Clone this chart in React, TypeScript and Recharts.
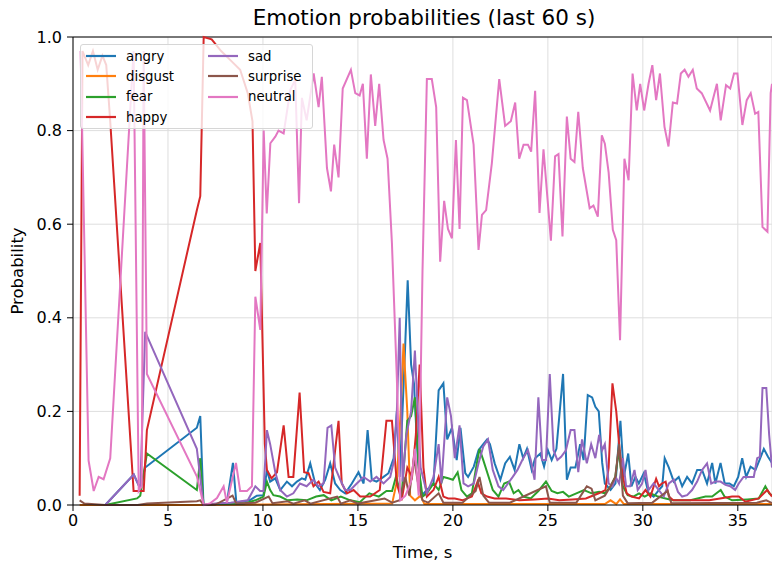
import React from "react";
import { LineChart, Line, XAxis, YAxis, CartesianGrid, Legend, ReferenceLine } from "recharts";

const FONT = "DejaVu Sans";

const emotions = ["angry", "disgust", "fear", "happy", "sad", "surprise", "neutral"];
const colors: Record<string, string> = {
    angry: "#1f77b4",
    disgust: "#ff7f0e",
    fear: "#2ca02c",
    happy: "#d62728",
    sad: "#9467bd",
    surprise: "#8c564b",
    neutral: "#e377c2",
};

const xTicks = [0, 5, 10, 15, 20, 25, 30, 35];
const yTicks = [0, 0.2, 0.4, 0.6, 0.8, 1.0];

// [time s, probability]
const angry: [number, number][] = [
    [1.7, 0], [3.2, 0.065], [3.37, 0.05], [3.54, 0.035], [3.8, 0.08], [6.52, 0.165], [6.7, 0.19], [6.87, 0],
    [7.5, 0.002], [8.1, 0.005], [8.42, 0.09], [8.6, 0.005], [9.3, 0.01], [9.68, 0.02], [10.03, 0.021],
    [10.21, 0.075], [10.38, 0.05], [10.65, 0.057], [10.91, 0.032], [11.26, 0.05], [11.53, 0.04], [11.79, 0.05],
    [12.05, 0.057], [12.23, 0.054], [12.49, 0.089], [12.75, 0.046], [13.0, 0.032], [13.28, 0.054], [13.54, 0.089],
    [13.8, 0.046], [14.07, 0.032], [14.33, 0.025], [14.68, 0.046], [15.03, 0.07], [15.3, 0.046], [15.51, 0.16],
    [15.73, 0.054], [15.98, 0.05], [16.35, 0.06], [16.61, 0.068], [16.88, 0.1], [17.05, 0.2], [17.2, 0.06],
    [17.45, 0.3], [17.62, 0.48], [17.8, 0.3], [17.95, 0.26], [18.15, 0.1], [18.35, 0.02], [18.63, 0.032],
    [18.98, 0.046], [19.25, 0.245], [19.5, 0.26], [19.7, 0.14], [19.95, 0.165], [20.2, 0.096], [20.4, 0.165],
    [20.65, 0.068], [20.8, 0.06], [21.1, 0.082], [21.35, 0.117], [21.6, 0.13], [21.8, 0.14], [21.95, 0.13],
    [22.2, 0.089], [22.5, 0.054], [22.75, 0.089], [23.0, 0.103], [23.25, 0.075], [23.5, 0.13], [23.7, 0.1],
    [23.9, 0.12], [24.15, 0.075], [24.33, 0.1], [24.6, 0.11], [24.8, 0.082], [25.0, 0.117], [25.2, 0.096],
    [25.45, 0.12], [25.8, 0.28], [26.0, 0.054], [26.2, 0.08], [26.45, 0.08], [26.7, 0.13], [26.88, 0.096],
    [27.1, 0.235], [27.33, 0.23], [27.5, 0.21], [27.68, 0.2], [27.86, 0.09], [28.0, 0.046], [28.3, 0.032],
    [28.56, 0.046], [28.82, 0.18], [29.0, 0.06], [29.23, 0.11], [29.4, 0.04], [29.61, 0.06], [29.79, 0.046],
    [30.05, 0.068], [30.3, 0.025], [30.57, 0.018], [30.84, 0.032], [31.02, 0.04], [31.15, 0.1], [31.37, 0.08],
    [31.63, 0.05], [31.89, 0.06], [32.07, 0.04], [32.33, 0.06], [32.59, 0.046], [32.86, 0.075], [33.12, 0.075],
    [33.38, 0.046], [33.65, 0.09], [33.82, 0.046], [34.09, 0.09], [34.31, 0.046], [34.56, 0.046], [34.79, 0.04],
    [35.02, 0.06], [35.23, 0.1], [35.44, 0.06], [35.67, 0.082], [35.93, 0.075], [36.14, 0.096], [36.37, 0.12],
    [36.59, 0.103], [36.8, 0.09],
];

const disgust: [number, number][] = [
    [0.35, 0], [6.88, 0], [10, 0.001], [16.8, 0.003], [17.05, 0.05], [17.25, 0.2], [17.4, 0.345], [17.6, 0.2],
    [17.75, 0.02], [18.0, 0.01], [18.3, 0.02], [18.5, 0.002], [20, 0.002], [28.0, 0.002], [28.3, 0.01],
    [28.6, 0.002], [28.8, 0.012], [29.0, 0.002], [36.8, 0.002],
];

const fear: [number, number][] = [
    [1.7, 0], [3.37, 0.014], [3.54, 0.02], [3.89, 0.11], [6.52, 0.032], [6.7, 0.1], [6.87, 0],
    [7.5, 0.002], [9.0, 0.003], [9.6, 0.01], [10.03, 0.018], [10.21, 0.05], [10.38, 0.032], [10.55, 0.021],
    [10.9, 0.018], [11.3, 0.01], [11.8, 0.012], [12.3, 0.01], [12.8, 0.018], [13.2, 0.021], [13.6, 0.01],
    [14.1, 0.018], [14.6, 0.01], [15.1, 0.006], [15.6, 0.025], [16.1, 0.018], [16.5, 0.03], [16.8, 0.03],
    [17.0, 0.06], [17.3, 0.02], [17.6, 0.18], [17.8, 0.19], [18.0, 0.23], [18.2, 0.08], [18.4, 0.018],
    [18.63, 0.025], [18.98, 0.046], [19.25, 0.032], [19.5, 0.06], [19.75, 0.057], [20.0, 0.054], [20.25, 0.07],
    [20.45, 0.032], [20.74, 0.018], [21.0, 0.025], [21.2, 0.075], [21.4, 0.12], [21.6, 0.096], [21.85, 0.064],
    [22.1, 0.032], [22.4, 0.018], [22.7, 0.046], [22.95, 0.05], [23.2, 0.025], [23.45, 0.032], [23.7, 0.018],
    [24.1, 0.014], [24.5, 0.03], [24.9, 0.05], [25.2, 0.03], [25.5, 0.025], [25.8, 0.028], [26.1, 0.018],
    [26.5, 0.025], [26.9, 0.032], [27.3, 0.025], [27.7, 0.028], [28.0, 0.025], [28.3, 0.04], [28.55, 0.06],
    [28.73, 0.117], [28.95, 0.04], [29.2, 0.021], [29.5, 0.018], [29.8, 0.025], [30.1, 0.018], [30.4, 0.025],
    [30.8, 0.018], [31.2, 0.014], [31.6, 0.01], [32.5, 0.01], [33.3, 0.018], [33.65, 0.018], [34.1, 0.032],
    [34.3, 0.018], [34.7, 0.01], [35.5, 0.012], [36.1, 0.014], [36.45, 0.04], [36.65, 0.025], [36.8, 0.02],
];

const happy: [number, number][] = [
    [0.35, 0.02], [0.5, 0.97], [0.8, 0.94], [1.05, 0.97], [1.3, 0.93], [1.55, 0.96], [1.75, 0.94], [1.96, 0.82],
    [3.19, 0.03], [3.46, 0.03], [3.72, 0.03], [3.89, 0.16], [6.52, 0.63], [6.7, 0.66], [6.88, 1.0], [7.3, 0.995],
    [7.8, 0.97], [8.3, 0.95], [8.8, 0.93], [9.2, 0.88], [9.45, 0.82], [9.6, 0.5], [9.86, 0.56], [10.1, 0.13],
    [10.21, 0.075], [10.45, 0.057], [10.74, 0.07], [11.09, 0.17], [11.35, 0.06], [11.6, 0.06], [11.93, 0.24],
    [12.17, 0.07], [12.4, 0.068], [12.66, 0.04], [12.93, 0.05], [13.19, 0.028], [13.54, 0.025], [13.98, 0.18],
    [14.15, 0.046], [14.42, 0.025], [14.77, 0.032], [15.12, 0.018], [15.65, 0.018], [16.15, 0.032], [16.5, 0.18],
    [16.79, 0.18], [17.05, 0.046], [17.3, 0.01], [17.6, 0.08], [17.85, 0.06], [18.05, 0.15], [18.25, 0.3],
    [18.45, 0.08], [18.63, 0.018], [18.98, 0.032], [19.25, 0.06], [19.5, 0.018], [19.75, 0.014], [20.1, 0.014],
    [20.5, 0.01], [21.0, 0.018], [21.3, 0.05], [21.5, 0.025], [21.8, 0.018], [22.2, 0.014], [22.8, 0.014],
    [23.5, 0.01], [24.3, 0.012], [25.0, 0.014], [25.6, 0.01], [26.3, 0.012], [27.0, 0.014], [27.68, 0.025],
    [28.03, 0.032], [28.2, 0.08], [28.4, 0.26], [28.6, 0.2], [28.78, 0.117], [28.95, 0.06], [29.15, 0.025],
    [29.4, 0.018], [29.8, 0.014], [30.14, 0.032], [30.4, 0.018], [30.7, 0.056], [30.85, 0.04], [31.0, 0.046],
    [31.2, 0.05], [31.37, 0.018], [31.6, 0.01], [32.5, 0.01], [33.5, 0.01], [34.7, 0.018], [35.05, 0.018],
    [35.4, 0.007], [36.1, 0.014], [36.37, 0.025], [36.55, 0.032], [36.8, 0.018],
];

const sad: [number, number][] = [
    [1.7, 0], [3.2, 0.065], [3.37, 0.05], [3.54, 0.035], [3.8, 0.37], [6.52, 0.12], [6.87, 0],
    [7.5, 0.003], [8.3, 0.005], [9.2, 0.01], [9.6, 0.04], [9.85, 0.03], [10.03, 0.03], [10.21, 0.16],
    [10.38, 0.13], [10.65, 0.07], [10.91, 0.032], [11.26, 0.018], [11.6, 0.025], [11.95, 0.046], [12.3, 0.04],
    [12.65, 0.054], [12.92, 0.04], [13.19, 0.046], [13.4, 0.165], [13.6, 0.17], [13.8, 0.08], [14.07, 0.054],
    [14.33, 0.032], [14.6, 0.032], [14.94, 0.046], [15.3, 0.06], [15.65, 0.05], [15.98, 0.06], [16.35, 0.046],
    [16.7, 0.06], [16.9, 0.095], [17.05, 0.2], [17.2, 0.4], [17.35, 0.05], [17.55, 0.15], [17.8, 0.2],
    [18.0, 0.33], [18.15, 0.2], [18.3, 0.08], [18.63, 0.025], [18.98, 0.06], [19.25, 0.13], [19.4, 0.046],
    [19.7, 0.23], [19.9, 0.19], [20.1, 0.1], [20.35, 0.17], [20.56, 0.046], [20.8, 0.04], [21.1, 0.046],
    [21.35, 0.089], [21.6, 0.125], [21.85, 0.14], [22.1, 0.075], [22.4, 0.04], [22.65, 0.032], [22.9, 0.046],
    [23.15, 0.06], [23.4, 0.075], [23.7, 0.1], [23.95, 0.117], [24.1, 0.096], [24.3, 0.054], [24.5, 0.23],
    [24.7, 0.096], [24.9, 0.096], [25.1, 0.28], [25.3, 0.117], [25.5, 0.096], [25.7, 0.103], [25.95, 0.117],
    [26.2, 0.16], [26.4, 0.16], [26.6, 0.07], [26.8, 0.14], [27.05, 0.089], [27.28, 0.13], [27.5, 0.1],
    [27.7, 0.15], [27.86, 0.117], [28.0, 0.13], [28.2, 0.046], [28.4, 0.04], [28.57, 0.06], [28.75, 0.046],
    [28.95, 0.1], [29.12, 0.04], [29.33, 0.04], [29.56, 0.075], [29.73, 0.032], [29.96, 0.046], [30.14, 0.075],
    [30.3, 0.032], [30.57, 0.046], [30.84, 0.032], [31.1, 0.018], [31.37, 0.046], [31.63, 0.054], [31.85, 0.028],
    [32.07, 0.018], [32.33, 0.021], [32.59, 0.032], [32.86, 0.05], [33.12, 0.075], [33.38, 0.089], [33.6, 0.046],
    [33.82, 0.05], [34.09, 0.05], [34.35, 0.043], [34.6, 0.04], [34.86, 0.032], [35.05, 0.046], [35.3, 0.06],
    [35.58, 0.06], [35.84, 0.06], [36.02, 0.1], [36.16, 0.103], [36.3, 0.25], [36.5, 0.25], [36.65, 0.15],
    [36.8, 0.08],
];

const surprise: [number, number][] = [
    [0.35, 0.01], [0.6, 0.003], [1.7, 0], [3.4, 0], [3.9, 0.003], [6.52, 0.008], [6.7, 0.01], [6.88, 0],
    [7.5, 0.001], [8.4, 0.02], [8.6, 0.003], [9.6, 0.005], [10.3, 0.018], [10.5, 0.004], [11.3, 0.008],
    [11.6, 0.003], [12.2, 0.01], [12.5, 0.003], [13.9, 0.018], [14.1, 0.003], [14.6, 0.01], [15.0, 0.003],
    [16.4, 0.014], [16.8, 0.005], [17.2, 0.01], [17.5, 0.06], [17.7, 0.02], [17.95, 0.1], [18.15, 0.05],
    [18.4, 0.01], [18.7, 0.005], [19.25, 0.025], [19.5, 0.005], [20.5, 0.005], [21.2, 0.03], [21.4, 0.06],
    [21.6, 0.02], [21.9, 0.005], [23.0, 0.005], [24.9, 0.04], [25.1, 0.005], [26.5, 0.005], [27.05, 0.04],
    [27.3, 0.035], [27.5, 0.01], [28.0, 0.02], [28.3, 0.04], [28.55, 0.06], [28.75, 0.13], [28.95, 0.02],
    [29.2, 0.004], [30.5, 0.005], [31.3, 0.03], [31.5, 0.004], [36.0, 0.005], [36.5, 0.01], [36.8, 0.004],
];

const neutral: [number, number][] = [
    [0.4, 0.97], [0.82, 0.095], [1.09, 0.03], [1.35, 0.06], [1.61, 0.055], [1.96, 0.1], [3.19, 0.97],
    [3.46, 0.03], [3.62, 0.04], [3.72, 0.97], [3.89, 0.28], [6.53, 0.06], [6.88, 0], [7.2, 0.003],
    [7.58, 0.015], [7.93, 0.04], [8.1, 0.005], [8.58, 0.09], [8.8, 0.03], [9.16, 0.03], [9.42, 0.04],
    [9.6, 0.445], [9.86, 0.374], [10.04, 0.8], [10.2, 0.623], [10.39, 0.773], [10.65, 0.787], [10.82, 0.8],
    [11.09, 0.794], [11.44, 0.887], [11.7, 0.908], [11.9, 0.645], [12.05, 0.87], [12.3, 0.822], [12.67, 0.922],
    [12.93, 0.85], [13.1, 0.915], [13.37, 0.72], [13.58, 0.67], [13.75, 0.77], [13.98, 0.7], [14.2, 0.89],
    [14.63, 0.93], [14.86, 0.88], [15.09, 0.875], [15.26, 0.9], [15.47, 0.74], [15.68, 0.92], [15.91, 0.81],
    [16.12, 0.9], [16.35, 0.78], [16.56, 0.74], [16.79, 0.56], [17.05, 0.27], [17.23, 0.01], [17.5, 0.02],
    [17.8, 0.05], [18.0, 0.12], [18.2, 0.02], [18.4, 0.5], [18.63, 0.91], [18.89, 0.91], [19.12, 0.85],
    [19.33, 0.52], [19.54, 0.65], [19.74, 0.59], [19.95, 0.57], [20.16, 0.78], [20.35, 0.59], [20.53, 0.87],
    [20.74, 0.865], [21.09, 0.77], [21.35, 0.545], [21.53, 0.62], [21.75, 0.63], [22.05, 0.73], [22.44, 0.91],
    [22.75, 0.81], [23.05, 0.82], [23.28, 0.86], [23.49, 0.74], [23.72, 0.77], [23.95, 0.77], [24.12, 0.755],
    [24.33, 0.885], [24.56, 0.624], [24.77, 0.76], [25.16, 0.565], [25.38, 0.745], [25.56, 0.75], [25.77, 0.574],
    [26.0, 0.83], [26.2, 0.74], [26.4, 0.733], [26.6, 0.84], [26.84, 0.72], [27.2, 0.634], [27.4, 0.64],
    [27.63, 0.616], [27.84, 0.79], [28.0, 0.772], [28.2, 0.71], [28.42, 0.588], [28.6, 0.566], [28.8, 0.352],
    [29.03, 0.74], [29.25, 0.694], [29.46, 0.922], [29.68, 0.843], [29.86, 0.9], [30.07, 0.843], [30.3, 0.9],
    [30.5, 0.94], [30.7, 0.865], [30.9, 0.922], [31.14, 0.808], [31.35, 0.766], [31.58, 0.86], [31.8, 0.858],
    [32.0, 0.922], [32.2, 0.93], [32.4, 0.915], [32.63, 0.93], [32.84, 0.89], [33.1, 0.88], [33.54, 0.843],
    [33.9, 0.9], [34.1, 0.822], [34.38, 0.897], [34.6, 0.89], [34.8, 0.922], [34.98, 0.922], [35.24, 0.812],
    [35.47, 0.865], [35.68, 0.88], [35.91, 0.836], [36.08, 0.84], [36.3, 0.594], [36.56, 0.584], [36.73, 0.88],
    [36.8, 0.9],
];

const series: Record<string, [number, number][]> = { angry, disgust, fear, happy, sad, surprise, neutral };

const toPoints = (pts: [number, number][]) => pts.map(([t, v]) => ({ t, v }));

const legendCols = [["angry", "disgust", "fear", "happy"], ["sad", "surprise", "neutral"]];

const EmotionLegend = () => (
    <div style={{
        position: "relative", width: 233, height: 85, boxSizing: "border-box",
        background: "rgba(255,255,255,0.8)", border: "1px solid #d6d6d6", borderRadius: 3,
        fontFamily: FONT, fontSize: 13.3, color: "#000",
    }}>
        {legendCols.map((col, ci) =>
            col.map((name, ri) => (
                <div key={name} style={{ position: "absolute", left: ci === 0 ? 4 : 126, top: 1 + ri * 20.4, height: 20, display: "flex", alignItems: "center" }}>
                    <svg width={32} height={20}>
                        <line x1={1} y1={10} x2={31} y2={10} stroke={colors[name]} strokeWidth={2.2} />
                    </svg>
                    <span style={{ marginLeft: 9, whiteSpace: "nowrap" }}>{name}</span>
                </div>
            ))
        )}
    </div>
);

const App: React.FC = () => {
    return (
        <div style={{ position: "absolute", left: 0, top: 0, width: 772, height: 562, background: "#fff" }}>
            <div style={{
                position: "absolute", left: 73, width: 702, top: 5, textAlign: "center",
                fontFamily: FONT, fontSize: 21.5, color: "#000", lineHeight: "25px",
            }}>
                Emotion probabilities (last 60 s)
            </div>
            <LineChart width={772} height={562} margin={{ top: 37, right: 0, bottom: 0, left: 0 }}>
                <CartesianGrid stroke="#dedede" strokeWidth={1} />
                <XAxis
                    dataKey="t" type="number" domain={[0, 36.8]} ticks={xTicks} height={57}
                    allowDataOverflow
                    tick={{ fill: "#000", fontSize: 16, fontFamily: FONT }}
                    tickSize={6} tickMargin={4}
                    axisLine={{ stroke: "#000" }} tickLine={{ stroke: "#000" }}
                    label={{ value: "Time, s", position: "insideBottom", offset: 4, fill: "#000", fontSize: 16.5, fontFamily: FONT }}
                />
                <YAxis
                    type="number" domain={[0, 1]} ticks={yTicks} width={73}
                    tickFormatter={(v: number) => v.toFixed(1)}
                    tick={{ fill: "#000", fontSize: 16, fontFamily: FONT }}
                    tickSize={6} tickMargin={5}
                    axisLine={{ stroke: "#000" }} tickLine={{ stroke: "#000" }}
                    label={{ value: "Probability", angle: -90, position: "insideLeft", offset: 17, fill: "#000", fontSize: 16.5, fontFamily: FONT, style: { textAnchor: "middle" } }}
                />
                <ReferenceLine y={1} stroke="#000" strokeWidth={1} />
                {emotions.map((name) => (
                    <Line
                        key={name}
                        data={toPoints(series[name])}
                        dataKey="v"
                        name={name}
                        type="linear"
                        stroke={colors[name]}
                        strokeWidth={2}
                        dot={false}
                        activeDot={false}
                        isAnimationActive={false}
                    />
                ))}
                <Legend
                    layout="vertical" align="center" verticalAlign="middle"
                    content={() => <EmotionLegend />}
                    wrapperStyle={{ position: "absolute", left: 80, top: 44, width: 233, height: 85, zIndex: 2 }}
                />
            </LineChart>
        </div>
    );
};

export default App;
